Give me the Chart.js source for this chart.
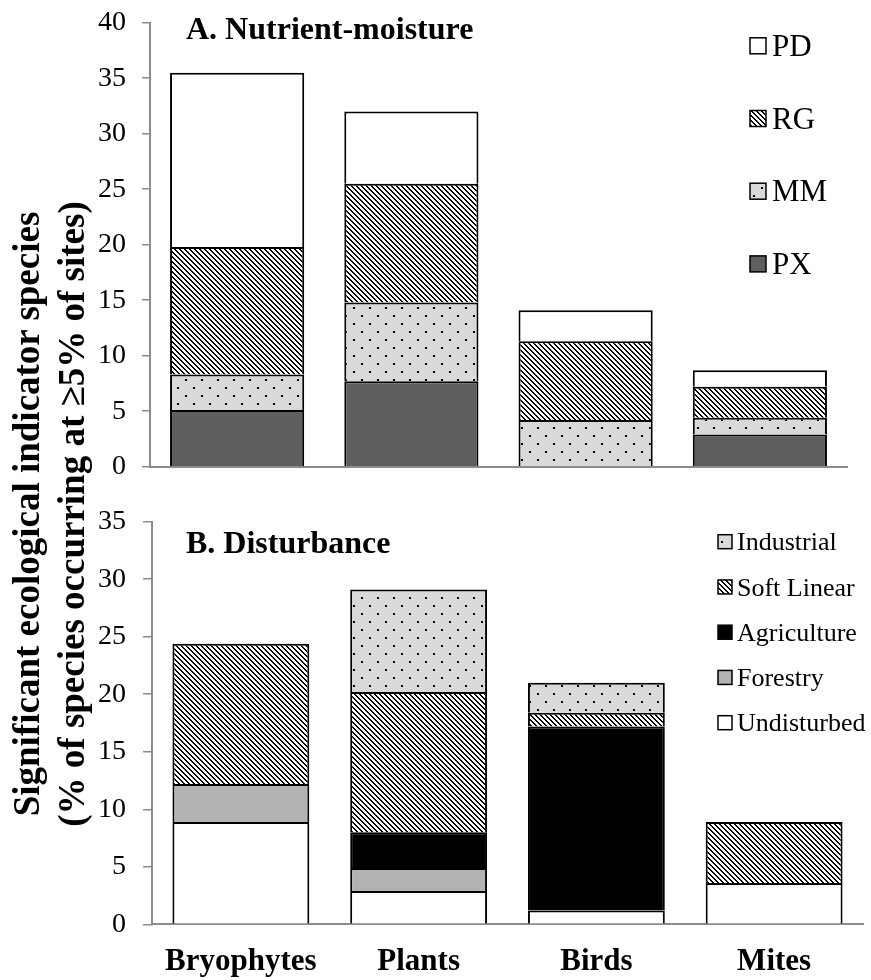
<!DOCTYPE html>
<html>
<head>
<meta charset="utf-8">
<script src="https://cdn.jsdelivr.net/npm/chart.js@4.4.1/dist/chart.umd.min.js"></script>
<style>
  html, body { margin: 0; padding: 0; background: #fff; }
  #figure { position: relative; width: 871px; height: 980px; overflow: hidden; }
  #figure canvas { position: absolute; left: 0; }
  #panelA { top: 0; }
  #panelB { top: 490px; }
  #ytitle {
    position: absolute; width: 760px; height: 90px; left: -331px; top: 469px;
    transform: rotate(-90deg); text-align: center; white-space: nowrap; color: #000;
    font-family: 'Liberation Serif', 'Times New Roman', serif;
    font-weight: bold; font-size: 37px; line-height: 45px;
  }
</style>
</head>
<body>
<div id="figure">
  <canvas id="panelA" width="871" height="490"></canvas>
  <canvas id="panelB" width="871" height="490"></canvas>
  <div id="ytitle">Significant ecological indicator species<br>(% of species occurring at ≥5% of sites)</div>
</div>
<script>
// Taxonomic groups along the x axis
const groups = ['Bryophytes', 'Plants', 'Birds', 'Mites'];

// A. Nutrient-moisture classes, % of species (stacked bottom to top)
const pxValues = [5.1, 7.7, 0, 2.9];
const mmValues = [3.2, 7.1, 4.2, 1.5];
const rgValues = [11.5, 10.7, 7.1, 2.8];
const pdValues = [15.7, 6.5, 2.8, 1.5];

// B. Disturbance classes, % of species (stacked bottom to top)
const undisturbedValues = [8.9, 2.9, 1.2, 3.6];
const forestryValues = [3.3, 2.0, 0, 0];
const agricultureValues = [0, 3.1, 16.0, 0];
const softLinearValues = [12.2, 12.2, 1.2, 5.3];
const industrialValues = [0, 8.9, 2.6, 0];

// Value-axis ranges and tick step
const maxA = 40;
const maxB = 35;
const tickStep = 5;

const serif = "'Liberation Serif', 'Times New Roman', serif";
const axisGrey = '#8c8c8c';

// Fill patterns
function hatchPattern(ctx) {
  const p = 5;
  const t = document.createElement('canvas');
  t.width = p; t.height = p;
  const c = t.getContext('2d');
  c.fillStyle = '#fff'; c.fillRect(0, 0, p, p);
  c.fillStyle = '#000';
  for (let y = 0; y < p; y++) {
    for (let x = 0; x < p; x++) {
      if ((((x - y) % p) + p) % p < 2) c.fillRect(x, y, 1, 1);
    }
  }
  return ctx.createPattern(t, 'repeat');
}
function dotPattern(ctx) {
  const t = document.createElement('canvas');
  t.width = 16; t.height = 16;
  const c = t.getContext('2d');
  c.fillStyle = '#d9d9d9'; c.fillRect(0, 0, 16, 16);
  c.fillStyle = '#000';
  c.fillRect(1, 3, 2, 2);
  c.fillRect(9, 11, 2, 2);
  return ctx.createPattern(t, 'repeat');
}

// Panel heading and key, drawn inside the plot
const panelDecor = {
  id: 'panelDecor',
  afterDraw(chart, args, o) {
    const ctx = chart.ctx;
    ctx.save();
    ctx.textAlign = 'left';
    ctx.textBaseline = 'alphabetic';
    ctx.fillStyle = '#000';
    ctx.font = `bold ${o.titleSize}px ${serif}`;
    ctx.fillText(o.title, o.titleX, o.titleY);
    ctx.font = `${o.keySize}px ${serif}`;
    const items = chart.data.datasets.slice().reverse();
    items.forEach((d, i) => {
      const cy = o.keyY + i * o.keyGap;
      const s = o.keyBox;
      ctx.fillStyle = d.backgroundColor;
      ctx.fillRect(o.keyX, cy - s / 2, s, s);
      ctx.lineWidth = 1.5;
      ctx.strokeStyle = '#000';
      ctx.strokeRect(o.keyX, cy - s / 2, s, s);
      ctx.fillStyle = '#000';
      ctx.fillText(d.label, o.keyX + s + o.keyTextGap, cy + o.keyBaseline);
    });
    ctx.restore();
  }
};

function valueAxis(max, width, tickLen, pad) {
  return {
    stacked: true,
    min: 0,
    max: max,
    ticks: { stepSize: tickStep, color: '#000', font: { family: serif, size: 28 }, padding: pad },
    grid: { display: true, drawOnChartArea: false, drawTicks: true, tickLength: tickLen, color: axisGrey, lineWidth: 1.5 },
    border: { display: true, color: axisGrey, width: 2 },
    afterFit(s) {
      s.width = width;
      s.paddingTop = 0;
      s.paddingBottom = 0;
    }
  };
}

function seg(label, data, fill) {
  return {
    label, data,
    backgroundColor: fill,
    borderColor: '#000',
    borderWidth: 2,
    categoryPercentage: 1,
    barPercentage: 0.77
  };
}

// Panel A
const ctxA = document.getElementById('panelA').getContext('2d');
new Chart(ctxA, {
  type: 'bar',
  data: {
    labels: groups,
    datasets: [
      seg('PX', pxValues, '#5f5f5f'),
      seg('MM', mmValues, dotPattern(ctxA)),
      seg('RG', rgValues, hatchPattern(ctxA)),
      seg('PD', pdValues, '#ffffff')
    ]
  },
  options: {
    responsive: false,
    animation: false,
    layout: { padding: { top: 22.7, right: 24, bottom: 23.3, left: 0 } },
    scales: {
      x: {
        stacked: true,
        z: 1,
        grid: { display: false, drawTicks: false },
        border: { display: true, color: axisGrey, width: 2 },
        ticks: { display: false },
        afterFit(s) { s.height = 0; }
      },
      y: valueAxis(maxA, 150, 8, 16)
    },
    plugins: {
      legend: { display: false },
      tooltip: { enabled: false },
      panelDecor: {
        title: 'A. Nutrient-moisture', titleSize: 32, titleX: 186, titleY: 38.5,
        keyX: 750, keyY: 45.8, keyGap: 72.7, keyBox: 16, keySize: 31, keyTextGap: 6, keyBaseline: 10
      }
    }
  },
  plugins: [panelDecor]
});

// Panel B
const ctxB = document.getElementById('panelB').getContext('2d');
new Chart(ctxB, {
  type: 'bar',
  data: {
    labels: groups,
    datasets: [
      seg('Undisturbed', undisturbedValues, '#ffffff'),
      seg('Forestry', forestryValues, '#b2b2b2'),
      seg('Agriculture', agricultureValues, '#000000'),
      seg('Soft Linear', softLinearValues, hatchPattern(ctxB)),
      seg('Industrial', industrialValues, dotPattern(ctxB))
    ]
  },
  options: {
    responsive: false,
    animation: false,
    layout: { padding: { top: 31.7, right: 8, bottom: 0, left: 0 } },
    scales: {
      x: {
        stacked: true,
        z: 1,
        grid: { display: false, drawTicks: false },
        border: { display: true, color: axisGrey, width: 2 },
        ticks: { color: '#000', font: { family: serif, size: 31, weight: 'bold' }, padding: 18.6, maxRotation: 0, autoSkip: false },
        afterFit(s) { s.height = 55.7; }
      },
      y: valueAxis(maxB, 152, 9, 17)
    },
    plugins: {
      legend: { display: false },
      tooltip: { enabled: false },
      panelDecor: {
        title: 'B. Disturbance', titleSize: 32, titleX: 186, titleY: 63.3,
        keyX: 718, keyY: 51.7, keyGap: 45.25, keyBox: 14, keySize: 26, keyTextGap: 5, keyBaseline: 8.6
      }
    }
  },
  plugins: [panelDecor]
});
</script>
</body>
</html>
